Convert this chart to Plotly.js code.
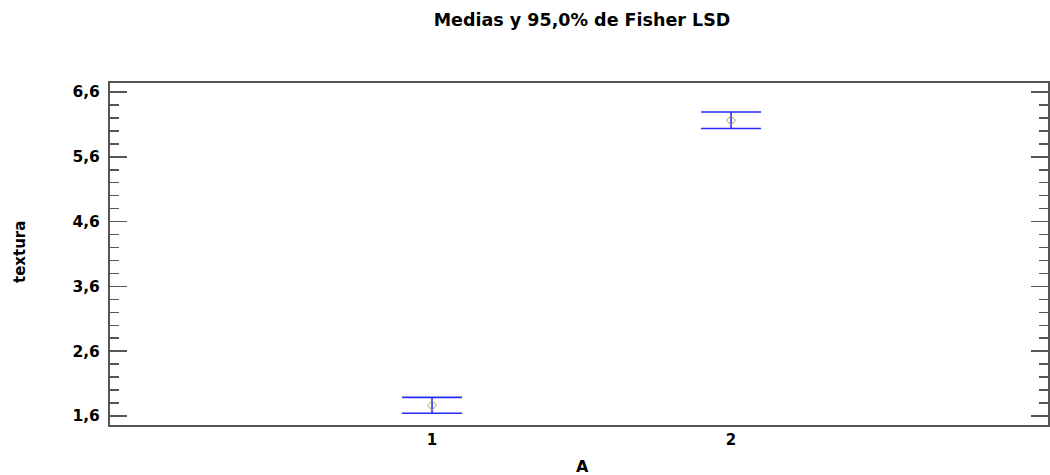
<!DOCTYPE html>
<html>
<head>
<meta charset="utf-8">
<script src="https://cdn.plot.ly/plotly-3.0.1.min.js"></script>
<style>html,body{margin:0;padding:0;background:#fff;}#chart{width:1050px;height:475px;}</style>
</head>
<body>
<div id="chart"></div>
<script>
const categories = [1, 2];
const means = [1.765, 6.164];
const halfWidths = [0.123, 0.128];
const yTickVals = [1.6, 2.6, 3.6, 4.6, 5.6, 6.6];
const yTickText = ["1,6", "2,6", "3,6", "4,6", "5,6", "6,6"];

const FONT = "DejaVu Sans, Verdana, sans-serif";

const trace = {
  x: categories,
  y: means,
  type: "scatter",
  mode: "markers",
  marker: {symbol: "diamond-open", size: 7, color: "#a8a040", line: {width: 1, color: "#a8a040"}},
  error_y: {type: "data", array: halfWidths, visible: true, color: "#2a2aff", thickness: 1.6, width: 30},
  hoverinfo: "none"
};

const layout = {
  width: 1050, height: 475,
  margin: {l: 110, r: 2, t: 83, b: 50},
  paper_bgcolor: "#fff", plot_bgcolor: "#fff",
  separators: ",.",
  showlegend: false,
  title: {text: "<b>Medias y 95,0% de Fisher LSD</b>", font: {family: FONT, size: 17.5, color: "#000"},
          x: 582/1050, xanchor: "center", y: 1 - 20/475, yanchor: "middle", yref: "container"},
  xaxis: {
    range: [-0.077, 3.06], tickvals: categories, ticktext: ["<b>1</b>", "<b>2</b>"],
    ticks: "", showgrid: false, zeroline: false,
    showline: true, linecolor: "#555", linewidth: 2, mirror: true,
    tickfont: {family: FONT, size: 15, color: "#000"}
  },
  yaxis: {
    range: [1.461, 6.739], tickvals: yTickVals, ticktext: yTickText.map(t => "<b>" + t + "</b>"),
    ticks: "inside", ticklen: 17, tickwidth: 1.5, tickcolor: "#555",
    minor: {dtick: 0.2, tick0: 1.6, ticks: "inside", ticklen: 9, tickwidth: 1.5, tickcolor: "#555"},
    showgrid: false, zeroline: false, ticklabelstandoff: 5,
    showline: true, linecolor: "#555", linewidth: 2, mirror: "ticks",
    tickfont: {family: FONT, size: 15.5, color: "#000"}
  },
  annotations: [
    {text: "<b>textura</b>", xref: "paper", yref: "paper", x: -90/938, y: (425-252)/342, textangle: -90,
     showarrow: false, font: {family: FONT, size: 15, color: "#000"}, xanchor: "center", yanchor: "middle"},
    {text: "<b>A</b>", xref: "paper", yref: "paper", x: (582-110)/938, y: -(466-425)/342,
     showarrow: false, font: {family: FONT, size: 16, color: "#000"}, xanchor: "center", yanchor: "middle"}
  ]
};

Plotly.newPlot("chart", [trace], layout, {displayModeBar: false, staticPlot: true});
</script>
</body>
</html>
